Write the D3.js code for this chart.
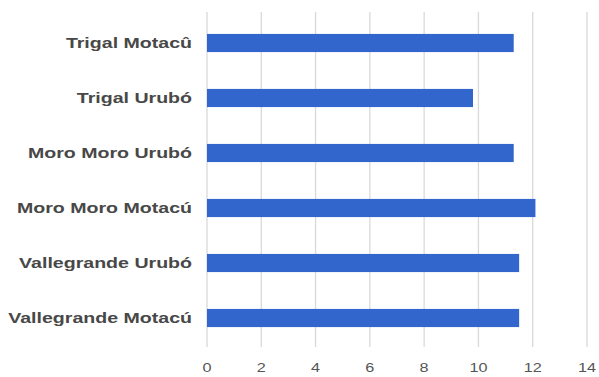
<!DOCTYPE html>
<html>
<head>
<meta charset="utf-8">
<script src="https://cdn.jsdelivr.net/npm/d3@7"></script>
<style>
  body { margin: 0; background: #fff; }
  svg text { font-family: "Liberation Sans", Arial, sans-serif; }
</style>
</head>
<body>
<div id="chart"></div>
<script>
const categories = ["Trigal Motacû", "Trigal Urubó", "Moro Moro Urubó", "Moro Moro Motacú", "Vallegrande Urubó", "Vallegrande Motacú"];
const values = [11.3, 9.8, 11.3, 12.1, 11.5, 11.5];
const xTicks = [0, 2, 4, 6, 8, 10, 12, 14];

const width = 599, height = 377;
const plotLeft = 207, plotRight = 587, plotTop = 15.5, plotBottom = 345.5;

const svg = d3.select("#chart").append("svg")
  .attr("width", width)
  .attr("height", height);

const x = d3.scaleLinear().domain([0, 14]).range([plotLeft, plotRight]);
const y = d3.scaleBand().domain(categories).range([plotTop, plotBottom])
  .paddingInner(0.67).paddingOuter(0.335);

// gridlines
svg.append("g").selectAll("line")
  .data(xTicks)
  .enter().append("line")
  .attr("x1", d => x(d)).attr("x2", d => x(d))
  .attr("y1", 12).attr("y2", 347)
  .attr("stroke", "#d9d9d9")
  .attr("stroke-width", 1.3);

// bars
svg.append("g").selectAll("rect")
  .data(values)
  .enter().append("rect")
  .attr("x", x(0))
  .attr("y", (d, i) => y(categories[i]))
  .attr("width", d => x(d) - x(0))
  .attr("height", y.bandwidth())
  .attr("fill", "#3366cc");

// category labels
svg.append("g").selectAll("text")
  .data(categories)
  .enter().append("text")
  .attr("transform", d => "translate(192," + (y(d) + y.bandwidth() / 2) + ") scale(1.35,1)")
  .attr("text-anchor", "end")
  .attr("dy", "0.35em")
  .attr("font-size", 14.5)
  .attr("font-weight", "bold")
  .attr("fill", "#484848")
  .text(d => d);

// x tick labels
svg.append("g").selectAll("text")
  .data(xTicks)
  .enter().append("text")
  .attr("transform", d => "translate(" + x(d) + ",368) scale(1.3,1)")
  .attr("text-anchor", "middle")
  .attr("dy", "0.35em")
  .attr("font-size", 12.5)
  .attr("fill", "#555")
  .text(d => d);
</script>
</body>
</html>
